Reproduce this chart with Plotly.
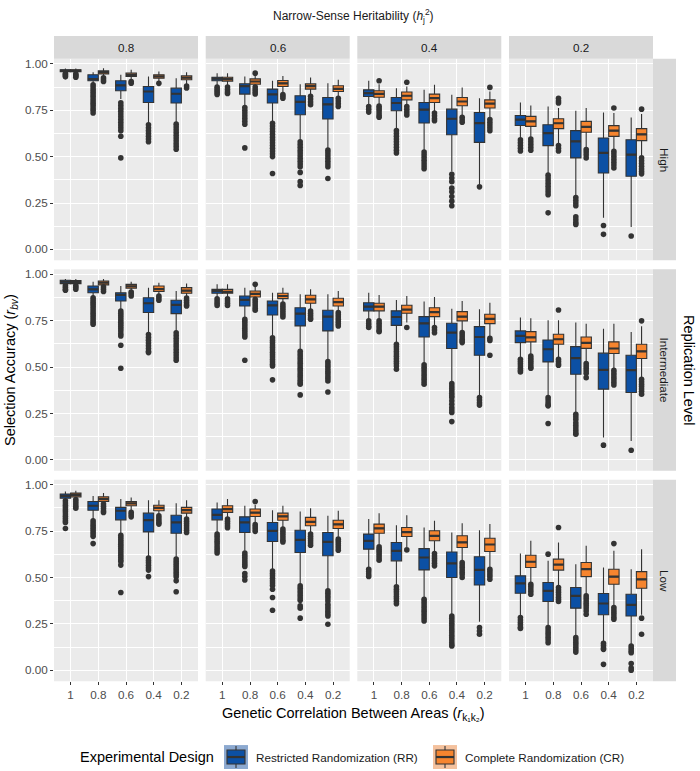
import plotly.graph_objects as go

# ---------------- data ----------------
CORR_LABELS = ["1", "0.8", "0.6", "0.4", "0.2"]
H2_LABELS = ["0.8", "0.6", "0.4", "0.2"]
REP_LABELS = ["High", "Intermediate", "Low"]
DESIGN_LABELS = ["Restricted Randomization (RR)", "Complete Randomization (CR)"]

# box stats per panel (h2 = 0.8, 0.6, 0.4, 0.2), per correlation: (lower, q1, median, q3, upper)
rr_high = [
    [(0.950, 0.958, 0.964, 0.968, 0.975), (0.895, 0.909, 0.918, 0.941, 0.955), (0.810, 0.855, 0.884, 0.909, 0.941), (0.680, 0.792, 0.851, 0.878, 0.932), (0.680, 0.789, 0.839, 0.869, 0.923)],
    [(0.885, 0.909, 0.920, 0.928, 0.950), (0.775, 0.837, 0.880, 0.893, 0.932), (0.690, 0.789, 0.835, 0.864, 0.909), (0.590, 0.726, 0.795, 0.828, 0.890), (0.547, 0.703, 0.782, 0.819, 0.896)],
    [(0.780, 0.824, 0.842, 0.860, 0.909), (0.650, 0.747, 0.789, 0.819, 0.869), (0.535, 0.681, 0.753, 0.792, 0.860), (0.420, 0.618, 0.704, 0.756, 0.833), (0.350, 0.577, 0.681, 0.738, 0.815)],
    [(0.600, 0.668, 0.699, 0.722, 0.792), (0.410, 0.559, 0.627, 0.672, 0.770), (0.290, 0.493, 0.582, 0.640, 0.747), (0.170, 0.412, 0.520, 0.600, 0.738), (0.120, 0.394, 0.511, 0.591, 0.711)],
]
cr_high = [
    [(0.952, 0.958, 0.963, 0.968, 0.975), (0.935, 0.946, 0.955, 0.962, 0.977), (0.915, 0.932, 0.940, 0.950, 0.968), (0.905, 0.923, 0.932, 0.941, 0.959), (0.885, 0.914, 0.925, 0.935, 0.955)],
    [(0.885, 0.907, 0.918, 0.928, 0.950), (0.860, 0.890, 0.905, 0.919, 0.935), (0.845, 0.878, 0.895, 0.910, 0.935), (0.835, 0.864, 0.880, 0.892, 0.926), (0.825, 0.851, 0.865, 0.882, 0.915)],
    [(0.780, 0.820, 0.838, 0.855, 0.890), (0.780, 0.806, 0.828, 0.848, 0.878), (0.745, 0.792, 0.815, 0.837, 0.887), (0.720, 0.774, 0.797, 0.819, 0.873), (0.710, 0.762, 0.786, 0.806, 0.851)],
    [(0.605, 0.663, 0.690, 0.717, 0.776), (0.570, 0.651, 0.680, 0.704, 0.762), (0.545, 0.631, 0.660, 0.690, 0.762), (0.540, 0.609, 0.640, 0.667, 0.735), (0.500, 0.586, 0.620, 0.651, 0.730)],
]
rr_int = [
    [(0.945, 0.950, 0.960, 0.968, 0.975), (0.880, 0.901, 0.919, 0.937, 0.960), (0.810, 0.856, 0.889, 0.901, 0.937), (0.686, 0.794, 0.844, 0.874, 0.928), (0.695, 0.788, 0.835, 0.860, 0.910)],
    [(0.875, 0.898, 0.910, 0.919, 0.946), (0.767, 0.829, 0.862, 0.883, 0.928), (0.668, 0.781, 0.833, 0.856, 0.901), (0.596, 0.722, 0.788, 0.820, 0.892), (0.542, 0.695, 0.772, 0.806, 0.892)],
    [(0.760, 0.803, 0.826, 0.847, 0.901), (0.630, 0.725, 0.770, 0.803, 0.862), (0.520, 0.662, 0.736, 0.772, 0.853), (0.415, 0.600, 0.686, 0.736, 0.815), (0.340, 0.564, 0.662, 0.718, 0.811)],
    [(0.550, 0.632, 0.668, 0.695, 0.767), (0.350, 0.528, 0.596, 0.646, 0.752), (0.255, 0.461, 0.548, 0.610, 0.740), (0.120, 0.381, 0.485, 0.575, 0.707), (0.102, 0.363, 0.483, 0.564, 0.689)],
]
cr_int = [
    [(0.945, 0.950, 0.958, 0.966, 0.975), (0.937, 0.943, 0.955, 0.964, 0.975), (0.910, 0.925, 0.935, 0.946, 0.960), (0.890, 0.907, 0.920, 0.937, 0.955), (0.870, 0.898, 0.912, 0.928, 0.950)],
    [(0.875, 0.898, 0.905, 0.919, 0.946), (0.870, 0.878, 0.895, 0.910, 0.935), (0.850, 0.869, 0.883, 0.898, 0.928), (0.810, 0.844, 0.865, 0.887, 0.919), (0.800, 0.829, 0.850, 0.871, 0.910)],
    [(0.760, 0.803, 0.826, 0.844, 0.889), (0.740, 0.790, 0.810, 0.833, 0.883), (0.725, 0.772, 0.796, 0.820, 0.878), (0.695, 0.749, 0.772, 0.799, 0.856), (0.665, 0.734, 0.760, 0.785, 0.847)],
    [(0.565, 0.636, 0.660, 0.691, 0.763), (0.550, 0.623, 0.650, 0.677, 0.752), (0.525, 0.601, 0.630, 0.662, 0.734), (0.490, 0.573, 0.600, 0.636, 0.734), (0.440, 0.546, 0.585, 0.623, 0.720)],
]
rr_low = [
    [(0.920, 0.928, 0.940, 0.950, 0.964), (0.815, 0.863, 0.887, 0.910, 0.940), (0.734, 0.811, 0.860, 0.878, 0.923), (0.612, 0.746, 0.809, 0.847, 0.917), (0.608, 0.739, 0.797, 0.836, 0.901)],
    [(0.743, 0.811, 0.838, 0.869, 0.905), (0.644, 0.743, 0.797, 0.827, 0.887), (0.545, 0.694, 0.752, 0.797, 0.863), (0.464, 0.635, 0.703, 0.755, 0.856), (0.437, 0.617, 0.692, 0.743, 0.833)],
    [(0.555, 0.653, 0.698, 0.734, 0.815), (0.460, 0.590, 0.644, 0.689, 0.782), (0.390, 0.541, 0.608, 0.656, 0.770), (0.300, 0.500, 0.576, 0.638, 0.743), (0.261, 0.460, 0.541, 0.612, 0.755)],
    [(0.290, 0.415, 0.468, 0.509, 0.629), (0.235, 0.371, 0.428, 0.473, 0.590), (0.180, 0.335, 0.401, 0.446, 0.572), (0.150, 0.299, 0.360, 0.414, 0.554), (0.135, 0.293, 0.353, 0.410, 0.545)],
]
cr_low = [
    [(0.925, 0.935, 0.945, 0.955, 0.968), (0.900, 0.910, 0.923, 0.935, 0.955), (0.860, 0.887, 0.900, 0.910, 0.932), (0.840, 0.860, 0.875, 0.890, 0.917), (0.820, 0.847, 0.863, 0.878, 0.917)],
    [(0.825, 0.851, 0.869, 0.887, 0.923), (0.790, 0.829, 0.850, 0.869, 0.892), (0.770, 0.809, 0.830, 0.847, 0.887), (0.740, 0.779, 0.800, 0.824, 0.874), (0.720, 0.764, 0.787, 0.809, 0.860)],
    [(0.680, 0.739, 0.765, 0.788, 0.847), (0.665, 0.721, 0.745, 0.770, 0.836), (0.640, 0.698, 0.725, 0.752, 0.806), (0.590, 0.662, 0.690, 0.725, 0.793), (0.555, 0.640, 0.678, 0.712, 0.788)],
    [(0.470, 0.554, 0.585, 0.620, 0.698), (0.455, 0.540, 0.570, 0.599, 0.689), (0.410, 0.505, 0.545, 0.581, 0.671), (0.345, 0.464, 0.505, 0.545, 0.644), (0.300, 0.442, 0.490, 0.532, 0.653)],
]

# outliers per panel, per correlation
rr_high_out = [
    [[0.948, 0.942, 0.936, 0.930], [0.887, 0.875, 0.862, 0.850, 0.838, 0.825, 0.812, 0.800, 0.788, 0.775, 0.762, 0.750, 0.735], [0.790, 0.775, 0.760, 0.745, 0.730, 0.715, 0.700, 0.685, 0.670, 0.655, 0.640, 0.610, 0.493], [0.672, 0.655, 0.640, 0.625, 0.610, 0.595, 0.580], [0.675, 0.660, 0.645, 0.630, 0.615, 0.600, 0.585, 0.570, 0.555, 0.540]],
    [[0.875, 0.865, 0.855, 0.845, 0.835], [0.765, 0.750, 0.735, 0.720, 0.705, 0.690, 0.675, 0.547], [0.680, 0.665, 0.650, 0.635, 0.620, 0.605, 0.590, 0.575, 0.560, 0.545, 0.530, 0.515, 0.500, 0.409], [0.580, 0.565, 0.550, 0.535, 0.520, 0.505, 0.490, 0.475, 0.460, 0.445, 0.415, 0.365, 0.345], [0.535, 0.520, 0.505, 0.490, 0.475, 0.460, 0.445, 0.382]],
    [[0.770, 0.755, 0.740], [0.640, 0.625, 0.610, 0.595, 0.580, 0.565, 0.550, 0.535, 0.520], [0.525, 0.510, 0.495, 0.480, 0.465, 0.450, 0.435], [0.405, 0.385, 0.365, 0.330, 0.310, 0.285, 0.260, 0.235], [0.337]],
    [[0.590, 0.575, 0.560, 0.545, 0.530], [0.400, 0.385, 0.370, 0.355, 0.340, 0.325, 0.310, 0.295, 0.197], [0.280, 0.265, 0.250, 0.235, 0.175, 0.160, 0.145, 0.134], [0.129, 0.081], [0.072]],
]
cr_high_out = [
    [[0.946, 0.940, 0.934, 0.928], [0.925, 0.915, 0.905], [0.905, 0.896], [0.895], [0.880, 0.870]],
    [[0.875, 0.862, 0.850, 0.840], [0.950, 0.875, 0.862, 0.850, 0.838], [0.835, 0.825, 0.815], [0.825, 0.810, 0.795, 0.780], [0.815, 0.800, 0.785, 0.770]],
    [[0.909, 0.772, 0.760, 0.748, 0.735, 0.722, 0.712], [0.901, 0.770, 0.755, 0.740, 0.725], [0.735, 0.720, 0.705, 0.694], [0.712, 0.698, 0.685], [0.873, 0.700, 0.685, 0.670, 0.655, 0.640]],
    [[0.595, 0.580, 0.565, 0.550, 0.535], [0.815, 0.800, 0.789, 0.560, 0.545, 0.530], [0.538, 0.525, 0.510, 0.493], [0.762, 0.529, 0.515, 0.500, 0.485, 0.470, 0.455, 0.439], [0.756, 0.493, 0.478, 0.463, 0.448, 0.433, 0.420, 0.407]],
]
rr_int_out = [
    [[0.940, 0.930, 0.920, 0.914], [0.874, 0.862, 0.850, 0.838, 0.826, 0.814, 0.802, 0.790, 0.778, 0.766, 0.754, 0.742, 0.731], [0.802, 0.790, 0.778, 0.766, 0.754, 0.742, 0.730, 0.718, 0.706, 0.694, 0.680, 0.668, 0.618, 0.494], [0.675, 0.660, 0.645, 0.630, 0.615, 0.600, 0.585, 0.578], [0.685, 0.670, 0.655, 0.640, 0.625, 0.610, 0.595, 0.580, 0.565, 0.550, 0.537]],
    [[0.868, 0.856, 0.844, 0.832], [0.757, 0.745, 0.733, 0.721, 0.709, 0.697, 0.685, 0.673, 0.662, 0.537], [0.658, 0.645, 0.632, 0.619, 0.606, 0.593, 0.580, 0.567, 0.554, 0.541, 0.528, 0.515, 0.506, 0.431], [0.585, 0.572, 0.559, 0.546, 0.533, 0.520, 0.507, 0.494, 0.481, 0.468, 0.455, 0.442, 0.429, 0.416, 0.408, 0.350], [0.530, 0.517, 0.504, 0.491, 0.478, 0.465, 0.452, 0.439, 0.425, 0.366]],
    [[0.749, 0.735, 0.722, 0.713], [0.623, 0.610, 0.597, 0.584, 0.571, 0.558, 0.545, 0.532, 0.519, 0.506, 0.488], [0.512, 0.499, 0.486, 0.473, 0.460, 0.447, 0.434, 0.421, 0.408], [0.411, 0.398, 0.385, 0.372, 0.359, 0.346, 0.336, 0.318, 0.300, 0.282, 0.268, 0.255, 0.206], [0.336, 0.322, 0.308, 0.295]],
    [[0.542, 0.530, 0.518, 0.506, 0.494, 0.482, 0.474], [0.336, 0.322, 0.308, 0.295, 0.291, 0.196], [0.246, 0.232, 0.218, 0.200, 0.186, 0.172, 0.158, 0.145, 0.138], [0.079], [0.052]],
]
cr_int_out = [
    [[0.940, 0.930, 0.920], [0.932, 0.920, 0.907], [0.905, 0.895, 0.883], [0.883, 0.872, 0.860], [0.872, 0.860, 0.848, 0.836, 0.829]],
    [[0.868, 0.856, 0.844, 0.832], [0.946, 0.865, 0.853, 0.841, 0.829, 0.817, 0.806], [0.840, 0.828, 0.816, 0.804, 0.792, 0.780, 0.770], [0.802, 0.790, 0.778, 0.766, 0.758], [0.794, 0.782, 0.770, 0.758, 0.746, 0.734, 0.722]],
    [[0.749, 0.736, 0.723, 0.710, 0.697, 0.691], [0.713], [0.713, 0.700, 0.685], [0.686, 0.674, 0.662, 0.650, 0.640, 0.632], [0.655, 0.643, 0.564]],
    [[0.560, 0.548, 0.536, 0.524, 0.512, 0.500, 0.494], [0.808, 0.542, 0.530, 0.518, 0.510], [0.519, 0.506, 0.493, 0.480, 0.467, 0.443], [0.483, 0.470, 0.457, 0.444, 0.431, 0.418, 0.404], [0.749, 0.434, 0.421, 0.408, 0.395, 0.382, 0.369, 0.354]],
]
rr_low_out = [
    [[0.914, 0.902, 0.890, 0.878, 0.866, 0.854, 0.842, 0.830, 0.818, 0.806, 0.797, 0.764], [0.806, 0.794, 0.782, 0.770, 0.758, 0.746, 0.734, 0.722, 0.683], [0.728, 0.716, 0.704, 0.692, 0.680, 0.668, 0.656, 0.644, 0.632, 0.620, 0.608, 0.596, 0.586, 0.567, 0.419], [0.605, 0.592, 0.579, 0.566, 0.553, 0.540, 0.505], [0.600, 0.588, 0.576, 0.564, 0.552, 0.540, 0.528, 0.516, 0.504, 0.482, 0.423]],
    [[0.735, 0.722, 0.709, 0.696, 0.683, 0.670, 0.657, 0.644, 0.632], [0.632, 0.620, 0.608, 0.596, 0.584, 0.572, 0.560, 0.522, 0.505, 0.487], [0.535, 0.522, 0.509, 0.496, 0.483, 0.470, 0.457, 0.437, 0.392, 0.324], [0.455, 0.442, 0.429, 0.416, 0.403, 0.390, 0.377, 0.347, 0.335, 0.281], [0.428, 0.415, 0.402, 0.389, 0.374, 0.356, 0.343, 0.330, 0.317, 0.304, 0.293, 0.248]],
    [[0.545, 0.532, 0.519, 0.506], [0.450, 0.437, 0.424, 0.411, 0.398, 0.385, 0.372, 0.359], [0.383, 0.370, 0.357, 0.344, 0.331, 0.318, 0.305, 0.292, 0.279, 0.266], [0.293, 0.280, 0.267, 0.254, 0.241, 0.228, 0.215, 0.202, 0.189, 0.176, 0.163, 0.150, 0.137, 0.131], [0.230, 0.212, 0.194]],
    [[0.284, 0.271, 0.258, 0.245, 0.232, 0.225], [0.626, 0.230, 0.217, 0.204, 0.191, 0.178, 0.165, 0.149], [0.176, 0.163, 0.150, 0.137, 0.124, 0.111, 0.098], [0.146, 0.133, 0.120, 0.113, 0.032], [0.131, 0.118, 0.105, 0.095, 0.036, 0.012, 0.000]],
]
cr_low_out = [
    [[0.920, 0.908, 0.896, 0.884, 0.874], [0.896, 0.884, 0.872, 0.860, 0.851], [0.851, 0.839, 0.827], [0.833, 0.821, 0.809, 0.797, 0.788], [0.815, 0.803, 0.791, 0.779, 0.767, 0.755, 0.743]],
    [[0.815, 0.803, 0.791, 0.779, 0.768], [0.910, 0.785, 0.773, 0.761, 0.749], [0.761, 0.749, 0.737, 0.725, 0.713, 0.701, 0.692], [0.734, 0.722, 0.710, 0.698, 0.686, 0.674], [0.707, 0.695, 0.683, 0.671, 0.659, 0.647]],
    [[0.665, 0.653, 0.641, 0.629, 0.617, 0.605, 0.593], [0.649], [0.629, 0.616, 0.603, 0.590, 0.577, 0.563], [0.581, 0.568, 0.555, 0.542, 0.529, 0.516, 0.500], [0.545, 0.532, 0.519, 0.506, 0.491]],
    [[0.464, 0.451, 0.438, 0.425, 0.410], [0.770, 0.446, 0.433, 0.420, 0.407, 0.394, 0.381, 0.371], [0.401, 0.388, 0.375, 0.362, 0.349, 0.336, 0.320, 0.302], [0.683, 0.338, 0.325, 0.312, 0.299, 0.286, 0.275], [0.281, 0.194]],
]

RR_STATS = [rr_high, rr_int, rr_low]
CR_STATS = [cr_high, cr_int, cr_low]
RR_OUT = [rr_high_out, rr_int_out, rr_low_out]
CR_OUT = [cr_high_out, cr_int_out, cr_low_out]

# ---------------- style / layout ----------------
W, H = 700, 771
FONT = "Liberation Sans"
RR_FILL = "#0C50A4"
CR_FILL = "#F6852F"
RR_KEY_BG = "#8CA9D0"
CR_KEY_BG = "#F4C19D"
LINE = "#333333"
PANEL_BG = "#EBEBEB"
STRIP_BG = "#D9D9D9"

COL_X0 = [54, 205.7, 357.3, 509]
PW = 144
ROW_Y0 = [57, 268, 479]
PH = 202
STRIP = 23
XR = [0.4, 5.6]
YR = [-0.059, 1.027]
DODGE = 0.1875
BOXW = 0.375


def px(x):
    return x / W


def py(y):
    return 1 - y / H


fig = go.Figure()
layout = dict(
    width=W, height=H, margin=dict(l=0, r=0, t=0, b=0),
    paper_bgcolor="white", plot_bgcolor=PANEL_BG, showlegend=False,
    boxmode="overlay", font=dict(family=FONT, color="#1A1A1A", size=12),
)
shapes = []
annotations = []

for r in range(3):
    for c in range(4):
        idx = r * 4 + c + 1
        sfx = "" if idx == 1 else str(idx)
        xa, ya = "x" + sfx, "y" + sfx
        layout["xaxis" + sfx] = dict(
            domain=[px(COL_X0[c]), px(COL_X0[c] + PW)], range=XR, anchor=ya,
            tickmode="array", tickvals=[1, 2, 3, 4, 5], ticktext=CORR_LABELS,
            showticklabels=(r == 2), ticks="outside" if r == 2 else "",
            ticklen=3, tickwidth=1, tickcolor=LINE,
            tickfont=dict(size=11.7, color="#4D4D4D", family=FONT),
            showgrid=True, gridcolor="white", gridwidth=1.1, zeroline=False,
            showline=False, fixedrange=True,
        )
        layout["yaxis" + sfx] = dict(
            domain=[py(ROW_Y0[r] + PH), py(ROW_Y0[r])], range=YR, anchor=xa,
            tickmode="array", tickvals=[0, 0.25, 0.5, 0.75, 1.0],
            ticktext=["0.00", "0.25", "0.50", "0.75", "1.00"],
            showticklabels=(c == 0), ticks="outside" if c == 0 else "",
            ticklen=3, tickwidth=1, tickcolor=LINE,
            tickfont=dict(size=11.7, color="#4D4D4D", family=FONT),
            showgrid=True, gridcolor="white", gridwidth=1.1, zeroline=False,
            minor=dict(tickvals=[0.125, 0.375, 0.625, 0.875], showgrid=True,
                       gridcolor="white", gridwidth=0.55, ticks=""),
            showline=False, fixedrange=True,
        )

        for stats_all, outs_all, fill, sign in ((RR_STATS, RR_OUT, RR_FILL, -1), (CR_STATS, CR_OUT, CR_FILL, 1)):
            stats = stats_all[r][c]
            outs = outs_all[r][c]
            pos = [i + 1 + sign * DODGE for i in range(len(CORR_LABELS))]
            # outliers
            ox, oy = [], []
            for p, o in zip(pos, outs):
                ox += [p] * len(o)
                oy += o
            fig.add_trace(go.Scatter(
                x=ox, y=oy, mode="markers", xaxis=xa, yaxis=ya,
                marker=dict(size=5.6, color=LINE, line=dict(width=0)),
                hoverinfo="skip", showlegend=False,
            ))
            fig.add_trace(go.Box(
                x=pos,
                lowerfence=[s[0] for s in stats], q1=[s[1] for s in stats],
                median=[s[2] for s in stats], q3=[s[3] for s in stats],
                upperfence=[s[4] for s in stats],
                width=BOXW, fillcolor=fill, line=dict(color=LINE, width=1.1),
                whiskerwidth=0, boxpoints=False, xaxis=xa, yaxis=ya,
                hoverinfo="skip", showlegend=False,
            ))
            mx, my = [], []
            for p, s in zip(pos, stats):
                mx += [p - BOXW / 2, p + BOXW / 2, None]
                my += [s[2], s[2], None]
            fig.add_trace(go.Scatter(
                x=mx, y=my, mode="lines", xaxis=xa, yaxis=ya,
                line=dict(color=LINE, width=2.2), hoverinfo="skip", showlegend=False,
            ))

# top strips
for c, lab in enumerate(H2_LABELS):
    shapes.append(dict(type="rect", xref="paper", yref="paper",
                       x0=px(COL_X0[c]), x1=px(COL_X0[c] + PW),
                       y0=py(ROW_Y0[0]), y1=py(ROW_Y0[0] - STRIP),
                       fillcolor=STRIP_BG, line=dict(width=0), layer="below"))
    annotations.append(dict(xref="paper", yref="paper", x=px(COL_X0[c] + PW / 2),
                            y=py(ROW_Y0[0] - STRIP / 2), text=lab, showarrow=False,
                            font=dict(size=11.7, color="#1A1A1A", family=FONT),
                            xanchor="center", yanchor="middle"))
# right strips
SX0 = COL_X0[3] + PW
for r, lab in enumerate(REP_LABELS):
    shapes.append(dict(type="rect", xref="paper", yref="paper",
                       x0=px(SX0), x1=px(SX0 + STRIP),
                       y0=py(ROW_Y0[r] + PH), y1=py(ROW_Y0[r]),
                       fillcolor=STRIP_BG, line=dict(width=0), layer="below"))
    annotations.append(dict(xref="paper", yref="paper", x=px(SX0 + STRIP / 2),
                            y=py(ROW_Y0[r] + PH / 2), text=lab, showarrow=False,
                            textangle=90,
                            font=dict(size=11.7, color="#1A1A1A", family=FONT),
                            xanchor="center", yanchor="middle"))

mid_x = px((COL_X0[0] + COL_X0[3] + PW) / 2)
mid_y = py((ROW_Y0[0] + ROW_Y0[2] + PH) / 2)
annotations += [
    dict(xref="paper", yref="paper", x=mid_x, y=py(14),
         text="Narrow-Sense Heritability (<i>h</i><sub>j</sub><sup>2</sup>)",
         showarrow=False, font=dict(size=12, color="#1A1A1A", family=FONT),
         xanchor="center", yanchor="middle"),
    dict(xref="paper", yref="paper", x=mid_x, y=py(714),
         text="Genetic Correlation Between Areas (<i>r</i><sub>k₁k₂</sub>)",
         showarrow=False, font=dict(size=14.5, color="black", family=FONT),
         xanchor="center", yanchor="middle"),
    dict(xref="paper", yref="paper", x=px(11), y=mid_y,
         text="Selection Accuracy (<i>r</i><sub><i>bv</i></sub>)", textangle=-90,
         showarrow=False, font=dict(size=14.5, color="black", family=FONT),
         xanchor="center", yanchor="middle"),
    dict(xref="paper", yref="paper", x=px(689), y=mid_y,
         text="Replication Level", textangle=90,
         showarrow=False, font=dict(size=14.5, color="black", family=FONT),
         xanchor="center", yanchor="middle"),
]

# legend (drawn manually)
LEG_Y = 757
KEY = 24
annotations.append(dict(xref="paper", yref="paper", x=px(216), y=py(LEG_Y),
                        text="Experimental Design", showarrow=False,
                        font=dict(size=14.5, color="black", family=FONT),
                        xanchor="right", yanchor="middle"))
for kx, bg, fill, lab in ((224, RR_KEY_BG, RR_FILL, DESIGN_LABELS[0]), (433, CR_KEY_BG, CR_FILL, DESIGN_LABELS[1])):
    ky0 = LEG_Y - KEY / 2
    shapes.append(dict(type="rect", xref="paper", yref="paper", x0=px(kx), x1=px(kx + KEY),
                       y0=py(ky0 + KEY), y1=py(ky0), fillcolor=bg, line=dict(width=0)))
    shapes.append(dict(type="line", xref="paper", yref="paper", x0=px(kx + KEY / 2), x1=px(kx + KEY / 2),
                       y0=py(ky0 + KEY - 1), y1=py(ky0 + 1), line=dict(color=LINE, width=1.1)))
    shapes.append(dict(type="rect", xref="paper", yref="paper", x0=px(kx + 3), x1=px(kx + KEY - 3),
                       y0=py(ky0 + 19), y1=py(ky0 + 5), fillcolor=fill, line=dict(color=LINE, width=1.1)))
    shapes.append(dict(type="line", xref="paper", yref="paper", x0=px(kx + 3), x1=px(kx + KEY - 3),
                       y0=py(ky0 + 12), y1=py(ky0 + 12), line=dict(color=LINE, width=2.2)))
    annotations.append(dict(xref="paper", yref="paper", x=px(kx + KEY + 6), y=py(LEG_Y),
                            text=lab, showarrow=False,
                            font=dict(size=11.7, color="#1A1A1A", family=FONT),
                            xanchor="left", yanchor="middle"))

layout["shapes"] = shapes
layout["annotations"] = annotations
fig.update_layout(**layout)
fig.write_html("out.html")
